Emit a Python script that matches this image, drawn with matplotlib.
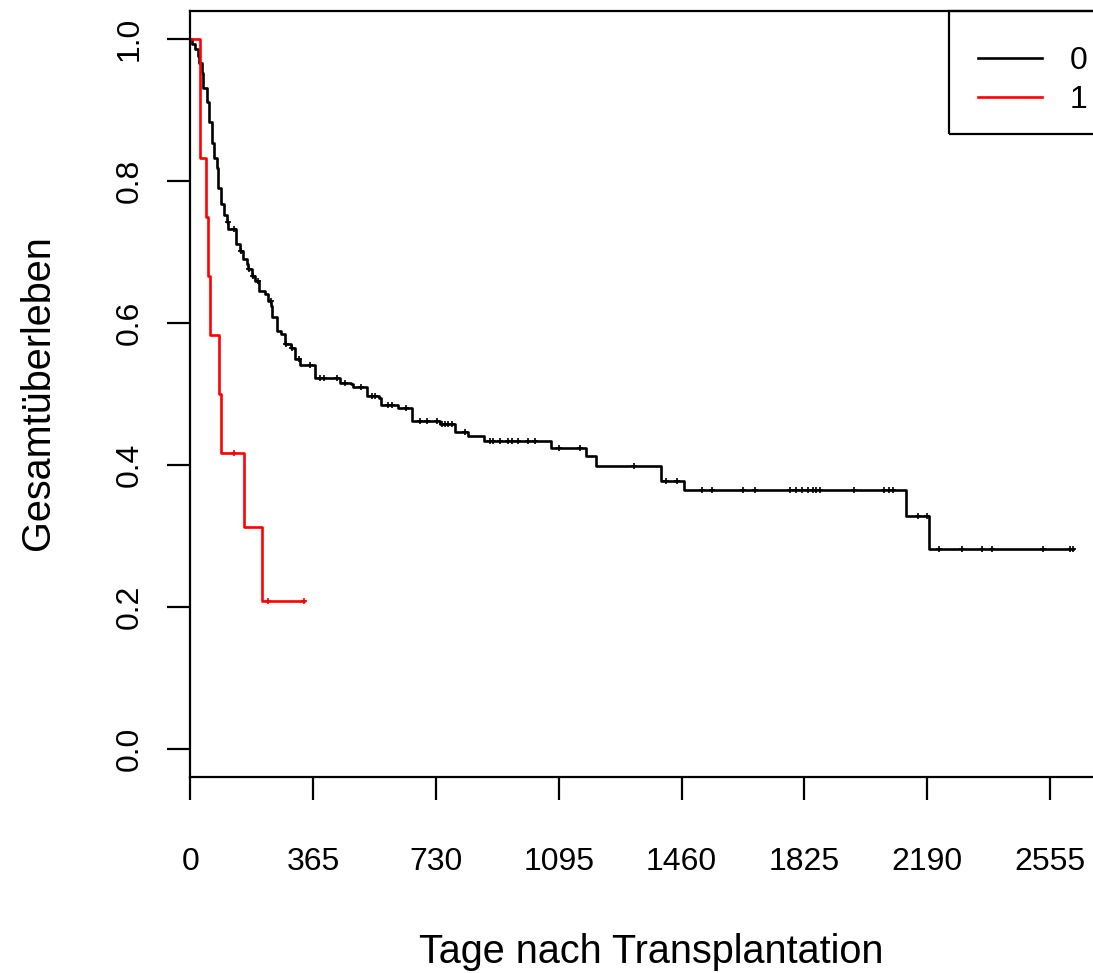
import numpy as np
import matplotlib
matplotlib.use("Agg")
import matplotlib.pyplot as plt
from matplotlib.patches import Rectangle

plt.rcParams['font.family'] = ['Liberation Sans', 'DejaVu Sans']

# ---- data ----
groups = ["0", "1"]
colors = ["#000000", "#ff0000"]

# group 0: step times (days) and survival after each step
times0 = [0, 4, 14, 22, 26, 36, 39, 49, 56, 64, 71, 78, 83, 91, 101, 108, 113,
          135, 148, 158, 168, 172, 182, 192, 203, 221, 231, 241, 244, 258, 271,
          281, 298, 311, 326, 370, 445, 479, 484, 524, 562, 567, 618, 658, 742,
          788, 824, 872, 1072, 1176, 1205, 1400, 1466, 2128, 2196]
surv0 = [1.0, 0.993, 0.986, 0.976, 0.967, 0.953, 0.932, 0.911, 0.883, 0.854,
         0.833, 0.819, 0.791, 0.768, 0.753, 0.742, 0.732, 0.711, 0.702, 0.690,
         0.683, 0.676, 0.666, 0.659, 0.645, 0.641, 0.631, 0.624, 0.608, 0.589,
         0.584, 0.570, 0.565, 0.549, 0.541, 0.523, 0.516, 0.514, 0.510, 0.497,
         0.495, 0.4845, 0.480, 0.462, 0.458, 0.447, 0.441, 0.434, 0.424, 0.413,
         0.399, 0.378, 0.364, 0.328, 0.281]
end0 = 2622
cens0 = [112, 130, 151, 174, 186, 201, 240, 284, 302, 323, 355, 385, 398, 435,
         460, 507, 540, 549, 588, 599, 640, 683, 702, 732, 747, 757, 767, 777,
         816, 891, 900, 920, 945, 955, 975, 1004, 1024, 1097, 1158, 1319, 1415,
         1446, 1520, 1549, 1642, 1677, 1783, 1801, 1817, 1835, 1850, 1859, 1871,
         1972, 2061, 2077, 2089, 2163, 2189, 2225, 2293, 2353, 2382, 2534, 2614,
         2622]

# group 1
times1 = [0, 30, 47, 54, 60, 84, 90, 160, 213]
surv1 = [1.0, 0.8333, 0.75, 0.6667, 0.5833, 0.5, 0.4167, 0.3125, 0.2083]
end1 = 339
cens1 = [130, 232, 339]

xticks = [0, 365, 730, 1095, 1460, 1825, 2190, 2555]
yticks = [0.0, 0.2, 0.4, 0.6, 0.8, 1.0]
ytick_labels = ["0.0", "0.2", "0.4", "0.6", "0.8", "1.0"]
xlabel = "Tage nach Transplantation"
ylabel = "Gesamtüberleben"

# ---- figure ----
W, H = 1093, 973
fig = plt.figure(figsize=(W / 100, H / 100), dpi=100)
left_px, right_px, top_px, bottom_px = 190.3, 1105.6, 11, 777
aw, ah = right_px - left_px, bottom_px - top_px
ax = fig.add_axes([left_px / W, 1 - bottom_px / H, aw / W, ah / H])

FS = 23
FS_LAB = 28.5
LW_AX = 1.6
LW = 1.9


def step_value(times, surv, t):
    i = np.searchsorted(times, t, side="right") - 1
    return np.asarray(surv)[i]


series = [(times0, surv0, end0, cens0), (times1, surv1, end1, cens1)]
for (t, s, e, c), col, lab in zip(series, colors, groups):
    tt = list(t) + [e]
    ss = list(s) + [s[-1]]
    ax.step(tt, ss, where="post", color=col, lw=LW, label=lab)
    cy = step_value(np.array(t), s, np.array(c))
    ax.plot(c, cy, linestyle="none", marker="+", ms=5, mew=1.2, color=col)

ax.set_xlim(0, 2720)
ax.set_ylim(-0.04, 1.04)
ax.set_xticks(xticks)
ax.set_xticklabels([str(v) for v in xticks], fontsize=FS)
ax.set_yticks(yticks)
ax.set_yticklabels(ytick_labels, fontsize=FS, rotation=90, va="center")

for sp in ax.spines.values():
    sp.set_linewidth(LW_AX)
    sp.set_color("black")

ax.tick_params(axis="both", direction="out", length=16.6, width=LW_AX, color="black")
ax.tick_params(axis="x", pad=33.5)
ax.tick_params(axis="y", pad=16.5)

fig.text(651 / W, 10 / H, xlabel, fontsize=FS_LAB, ha="center", va="baseline")
fig.text(49 / W, 1 - 393 / H, ylabel, fontsize=FS_LAB, ha="center",
         va="baseline", rotation=90, rotation_mode="anchor")

# legend: frame drawn flush with the top of the plot region
fx0 = (949 - left_px) / aw
fy0 = (bottom_px - 134) / ah
ax.add_patch(Rectangle((fx0, fy0), 1.0, 1.0 - fy0, transform=ax.transAxes,
                       fill=False, edgecolor="black", lw=LW_AX, clip_on=False,
                       zorder=5))
leg_x = (978 - left_px) / aw
leg_y = (bottom_px - 46) / ah
ax.legend(loc="upper left", bbox_to_anchor=(leg_x, leg_y), borderaxespad=0,
          fontsize=FS, frameon=False, handlelength=2.0, handletextpad=0.88,
          borderpad=0.0, labelspacing=0.28)

fig.savefig("out.png", dpi=100)
